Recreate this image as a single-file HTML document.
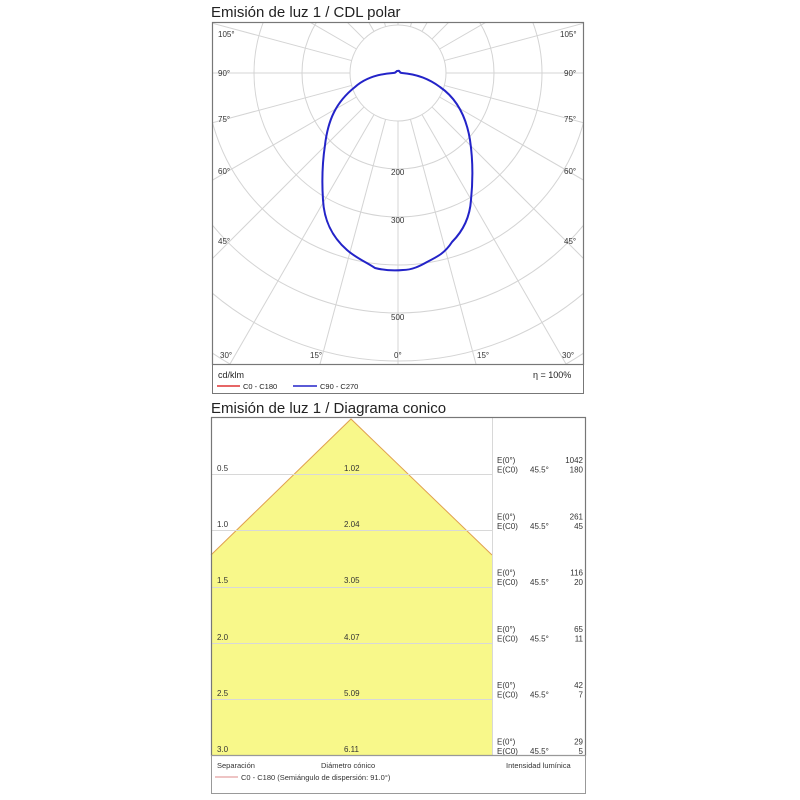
<!DOCTYPE html>
<html><head><meta charset="utf-8"><style>
body{margin:0;background:#fff;}
svg{display:block;font-family:"Liberation Sans",sans-serif;}
</style></head><body>
<svg id="s" width="800" height="800" viewBox="0 0 800 800">
<defs><clipPath id="cp"><rect x="212" y="22" width="372" height="342"/></clipPath></defs>
<text x="211" y="17" font-size="15" fill="#222">Emisión de luz 1 / CDL polar</text>
<g id="grid" clip-path="url(#cp)" stroke="#d4d4d4" stroke-width="1" fill="none"></g>
<g font-size="8" fill="#333">
<text x="218" y="37">105°</text><text x="560" y="37">105°</text>
<text x="218" y="76">90°</text><text x="564" y="76">90°</text>
<text x="218" y="122">75°</text><text x="564" y="122">75°</text>
<text x="218" y="174">60°</text><text x="564" y="174">60°</text>
<text x="218" y="244">45°</text><text x="564" y="244">45°</text>
<text x="220" y="358">30°</text><text x="310" y="358">15°</text><text x="394" y="358">0°</text><text x="477" y="358">15°</text><text x="562" y="358">30°</text>
<text x="391" y="175">200</text><text x="391" y="223">300</text><text x="391" y="320">500</text>
</g>
<path d="M398,71 C396,70 397,73 393,73 C378,74 365,78 355,87 C336,102 328,120 325,145 C322,165 322,185 323,200 C324,218 330,235 347,250 C356,258 366,262 375,268 C383,270 393,271 403,270 C412,270 420,266 427,262 C437,257 445,253 452,242 C464,230 470,215 471,200 C473,180 473,160 470,140 C466,115 456,98 440,87 C428,78 415,74 402,73 C399,73 400,70 398,71 Z" fill="none" stroke="#2323c8" stroke-width="2"/>
<rect x="212.5" y="22.5" width="371" height="342" fill="none" stroke="#777" stroke-width="1.2"/>
<rect x="212.5" y="364.5" width="371" height="29" fill="none" stroke="#777" stroke-width="1"/>
<text x="218" y="378" font-size="9" fill="#222">cd/klm</text>
<text x="533" y="378" font-size="9" fill="#222">η = 100%</text>
<line x1="217" y1="386" x2="240" y2="386" stroke="#d33" stroke-width="1.5"/>
<text x="243" y="389" font-size="7.5" fill="#222">C0 - C180</text>
<line x1="293" y1="386" x2="317" y2="386" stroke="#2323c8" stroke-width="1.5"/>
<text x="320" y="389" font-size="7.5" fill="#222">C90 - C270</text>

<text x="211" y="413" font-size="15" fill="#222">Emisión de luz 1 / Diagrama conico</text>
<polygon points="351,419 211,555 211,756 492,756 492,555" fill="#f8f88a"/>
<polyline points="211,555 351,419 492,555" fill="none" stroke="#e0a050" stroke-width="1"/>
<g stroke="#d8d8d8" stroke-width="1">
<line x1="211" y1="474.5" x2="492" y2="474.5"/><line x1="211" y1="530.5" x2="492" y2="530.5"/>
<line x1="211" y1="587.5" x2="492" y2="587.5"/><line x1="211" y1="643.5" x2="492" y2="643.5"/>
<line x1="211" y1="699.5" x2="492" y2="699.5"/>
<line x1="492.5" y1="418" x2="492.5" y2="756"/>
</g>
<g font-size="8" fill="#333">
<text x="217" y="471">0.5</text><text x="344" y="471">1.02</text>
<text x="217" y="527">1.0</text><text x="344" y="527">2.04</text>
<text x="217" y="583">1.5</text><text x="344" y="583">3.05</text>
<text x="217" y="640">2.0</text><text x="344" y="640">4.07</text>
<text x="217" y="696">2.5</text><text x="344" y="696">5.09</text>
<text x="217" y="752">3.0</text><text x="344" y="752">6.11</text>
</g>
<g id="rt" font-size="8" fill="#333"></g>
<rect x="211.5" y="417.5" width="374" height="338" fill="none" stroke="#777" stroke-width="1.2"/>
<rect x="211.5" y="755.5" width="374" height="38" fill="none" stroke="#999" stroke-width="1"/>
<text x="217" y="768" font-size="7.5" fill="#333">Separación</text>
<text x="321" y="768" font-size="7.5" fill="#333">Diámetro cónico</text>
<text x="506" y="768" font-size="7.5" fill="#333">Intensidad lumínica</text>
<line x1="215" y1="777" x2="238" y2="777" stroke="#d88" stroke-width="1"/>
<text x="241" y="780" font-size="7.5" fill="#333">C0 - C180 (Semiángulo de dispersión: 91.0°)</text>
</svg>
<script>
var ns="http://www.w3.org/2000/svg",g=document.getElementById("grid"),cx=398,cy=73;
function el(t,a,p){var e=document.createElementNS(ns,t);for(var k in a)e.setAttribute(k,a[k]);p.appendChild(e);return e;}
for(var k=1;k<=8;k++)el("circle",{cx:cx,cy:cy,r:48*k},g);
for(var a=-180;a<=180;a+=15){var r=a*Math.PI/180,s=Math.sin(r),c=Math.cos(r);
el("line",{x1:cx+48*s,y1:cy+48*c,x2:cx+500*s,y2:cy+500*c},g);}
var rt=document.getElementById("rt"),vals=[[1042,180],[261,45],[116,20],[65,11],[42,7],[29,5]];
for(var i=0;i<6;i++){var y=463+i*56.3;
var t=el("text",{x:497,y:y},rt);t.textContent="E(0°)";
t=el("text",{x:497,y:y+9.5},rt);t.textContent="E(C0)";
t=el("text",{x:530,y:y+9.5},rt);t.textContent="45.5°";
t=el("text",{x:583,y:y,"text-anchor":"end"},rt);t.textContent=vals[i][0];
t=el("text",{x:583,y:y+9.5,"text-anchor":"end"},rt);t.textContent=vals[i][1];}
</script>
</body></html>
